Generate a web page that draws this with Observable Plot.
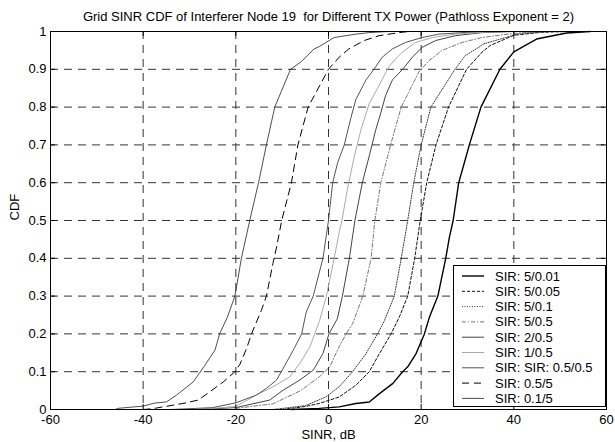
<!DOCTYPE html>
<html>
<head>
<meta charset="utf-8">
<script src="https://cdn.jsdelivr.net/npm/d3@7"></script>
<script src="https://cdn.jsdelivr.net/npm/@observablehq/plot@0.6"></script>
<style>
  html, body { margin: 0; padding: 0; background: #fff; }
  #chart svg { display: block; }
</style>
</head>
<body>
<div id="chart"></div>
<script>
// ---- Data (SINR in dB, CDF) ----
const titleText = "Grid SINR CDF of Interferer Node 19  for Different TX Power (Pathloss Exponent = 2)";
const xLabel = "SINR, dB";
const yLabel = "CDF";
const xTicks = [-60, -40, -20, 0, 20, 40, 60];
const yTicks = [0, 0.1, 0.2, 0.3, 0.4, 0.5, 0.6, 0.7, 0.8, 0.9, 1];

const seriesNames = ["SIR: 5/0.01", "SIR: 5/0.05", "SIR: 5/0.1", "SIR: 5/0.5", "SIR: 2/0.5", "SIR: 1/0.5", "SIR: SIR: 0.5/0.5", "SIR: 0.5/5", "SIR: 0.1/5"];

const s5_001 = [[-8,0],[-2,0.003],[2.3,0.007],[5.9,0.016],[8.8,0.02],[11,0.042],[13.9,0.069],[16,0.1],[17.1,0.113],[18.9,0.148],[20.7,0.2],[21.8,0.245],[23.6,0.3],[25.3,0.4],[26.1,0.456],[26.9,0.5],[28.1,0.6],[30.4,0.7],[32.9,0.8],[37,0.9],[40,0.946],[44.9,0.98],[51.4,0.996],[56.5,1]];
const s5_005 = [[-10,0],[-5,0.008],[-2,0.016],[2.3,0.033],[5.9,0.064],[8.8,0.1],[11,0.148],[13.5,0.2],[15.3,0.245],[17.1,0.3],[18.6,0.4],[19.8,0.5],[21.2,0.6],[23.2,0.7],[25.9,0.8],[29.8,0.9],[33.1,0.945],[34.9,0.963],[40,0.99],[46,0.998],[52,1]];
const s5_01 = [[-12,0],[-5,0.01],[-0.6,0.033],[2.3,0.06],[5.2,0.1],[8.1,0.148],[10.6,0.2],[12.1,0.236],[14.2,0.3],[15.7,0.4],[17.1,0.5],[18.4,0.6],[20,0.7],[22.1,0.8],[27.3,0.9],[29.5,0.936],[32.4,0.958],[33.4,0.967],[41.3,0.995],[48,1]];
const s5_05 = [[-20,0.003],[-12,0.015],[-6,0.05],[-2,0.086],[0.3,0.113],[0.9,0.13],[2.3,0.166],[3.8,0.2],[5.2,0.227],[7.4,0.3],[9.2,0.4],[10,0.5],[11.3,0.6],[13.4,0.7],[15.7,0.8],[19.5,0.893],[21.7,0.923],[24.5,0.95],[28.8,0.971],[33.1,0.984],[40,0.995],[46,1]];
const s2_05 = [[-28,0],[-20,0.005],[-12.7,0.025],[-9.8,0.051],[-6.2,0.078],[-3.3,0.104],[-1.2,0.148],[0.1,0.2],[1.9,0.24],[3,0.3],[4.5,0.4],[5.7,0.5],[7.3,0.6],[8.8,0.671],[10.2,0.74],[11.3,0.785],[12.3,0.83],[13.8,0.872],[16,0.9],[18.1,0.932],[20.2,0.958],[23.1,0.976],[27.4,0.989],[33.1,0.997],[40,1]];
const s1_05 = [[-28,0],[-20,0.008],[-15.6,0.038],[-12,0.06],[-8.4,0.086],[-6.2,0.122],[-4,0.166],[-1.9,0.236],[-0.5,0.298],[1,0.386],[2.4,0.474],[2.9,0.5],[4.1,0.584],[5.6,0.671],[7,0.74],[8.8,0.81],[10.6,0.85],[12.3,0.89],[13,0.906],[14.5,0.928],[15.9,0.945],[18.8,0.971],[22.4,0.984],[27.4,0.993],[33.1,0.998],[38,1]];
const s05_05 = [[-34,0],[-28.5,0.003],[-25,0.005],[-19.9,0.018],[-15.6,0.038],[-13.4,0.056],[-11.2,0.078],[-9.4,0.117],[-7.6,0.157],[-5.8,0.2],[-4.8,0.258],[-3.3,0.3],[-1.2,0.4],[0,0.5],[0.9,0.6],[2,0.654],[3.4,0.7],[4.8,0.77],[5.9,0.82],[8.1,0.872],[9.8,0.9],[11.6,0.932],[13.8,0.954],[16.6,0.971],[20.2,0.984],[23.8,0.993],[28.8,0.997],[33,1]];
const s05_5 = [[-40,0],[-38,0.002],[-35.7,0.007],[-31.4,0.016],[-28.1,0.025],[-25.6,0.047],[-22.7,0.073],[-20.2,0.1],[-19.1,0.12],[-17.7,0.161],[-16.6,0.2],[-15.7,0.227],[-14.5,0.262],[-13.4,0.3],[-12,0.386],[-11.2,0.43],[-10.1,0.5],[-8,0.6],[-6.6,0.7],[-4.4,0.8],[0,0.9],[2.3,0.932],[4.4,0.954],[7.7,0.976],[10.9,0.989],[15.2,0.997],[17.4,1]];
const s01_5 = [[-46,0],[-45.5,0.003],[-40,0.009],[-37.5,0.017],[-35,0.02],[-32.8,0.038],[-29.2,0.073],[-26.9,0.113],[-24.5,0.157],[-23.5,0.2],[-21.8,0.245],[-20.2,0.3],[-18.8,0.4],[-17,0.5],[-15.1,0.6],[-13.4,0.7],[-11.6,0.8],[-8.2,0.9],[-6,0.919],[-3.1,0.954],[-2,0.96],[1.2,0.984],[5.9,0.993],[8.7,0.997],[13,1]];

const seriesData = [s5_001, s5_005, s5_01, s5_05, s2_05, s1_05, s05_05, s05_5, s01_5];

// ---- Styles ----
const seriesStyles = [
  {stroke: "#000", width: 1.4, dash: null},
  {stroke: "#111", width: 1, dash: "3,2"},
  {stroke: "#333", width: 1, dash: "1,1.5"},
  {stroke: "#777", width: 1, dash: "4,2,1,2"},
  {stroke: "#444", width: 1, dash: null},
  {stroke: "#aaa", width: 1, dash: null},
  {stroke: "#555", width: 1, dash: null},
  {stroke: "#000", width: 1, dash: "7,5"},
  {stroke: "#222", width: 0.8, dash: null}
];

const W = 615, H = 442;
const FONT = "'Liberation Sans', Arial, Helvetica, sans-serif";
const FS = 13;
const gridStyle = {stroke: "#333", strokeOpacity: 1, strokeWidth: 1, strokeDasharray: "8,6"};

const lineMarks = seriesData.map((data, i) => Plot.line(data, {
  x: d => d[0], y: d => d[1],
  stroke: seriesStyles[i].stroke,
  strokeWidth: seriesStyles[i].width,
  strokeDasharray: seriesStyles[i].dash,
  strokeLinejoin: "round"
}));

const plot = Plot.plot({
  width: W, height: H,
  marginLeft: 50, marginRight: 9, marginTop: 31, marginBottom: 33,
  style: {fontFamily: FONT, fontSize: FS + "px", color: "#000", background: "#fff"},
  x: {domain: [-60, 60]},
  y: {domain: [0, 1]},
  marks: [
    Plot.gridX(xTicks, {...gridStyle}),
    Plot.gridY(yTicks, {...gridStyle}),
    ...lineMarks,
    // inner tick marks (box style)
    Plot.ruleX(xTicks, {x: d => d, y1: 0, y2: 0.013, stroke: "#000"}),
    Plot.ruleX(xTicks, {x: d => d, y1: 1, y2: 0.987, stroke: "#000"}),
    Plot.ruleY(yTicks, {y: d => d, x1: -60, x2: -58.9, stroke: "#000"}),
    Plot.ruleY(yTicks, {y: d => d, x1: 60, x2: 58.9, stroke: "#000"}),
    Plot.frame({stroke: "#000", strokeWidth: 1}),
    Plot.axisX(xTicks, {tickSize: 0, tickPadding: 5, tickFormat: d => String(d), label: null, fontSize: FS}),
    Plot.axisY(yTicks, {tickSize: 0, tickPadding: 4, tickFormat: d => String(+d.toFixed(1)), label: null, fontSize: FS}),
    Plot.text([titleText], {frameAnchor: "top", dy: -15, fontSize: FS, text: d => d, lineAnchor: "middle"}),
    Plot.text([xLabel], {frameAnchor: "bottom", dy: 25.5, fontSize: FS, text: d => d, lineAnchor: "middle"}),
    Plot.text([yLabel], {frameAnchor: "left", dx: -36, rotate: -90, fontSize: FS, text: d => d, lineAnchor: "middle"})
  ]
});

// ---- Legend (south-east, boxed) ----
const svg = d3.select(plot);
const lgX = 453, lgY = 265, lgW = 152, lgH = 141;
const lg = svg.append("g").attr("font-family", FONT).attr("font-size", FS).attr("text-anchor", "start");
lg.append("rect").attr("x", lgX + 0.5).attr("y", lgY + 0.5).attr("width", lgW).attr("height", lgH)
  .attr("fill", "#fff").attr("stroke", "#000").attr("stroke-width", 1);
seriesNames.forEach((name, i) => {
  const cy = lgY + 11 + i * 15.3;
  const st = seriesStyles[i];
  lg.append("line").attr("x1", lgX + 9).attr("x2", lgX + 31).attr("y1", cy).attr("y2", cy)
    .attr("stroke", st.stroke).attr("stroke-width", st.width)
    .attr("stroke-dasharray", st.dash);
  lg.append("text").attr("x", lgX + 42).attr("y", cy).attr("dy", "0.35em")
    .attr("text-anchor", "start").attr("fill", "#000").text(name);
});

document.getElementById("chart").appendChild(plot);
</script>
</body>
</html>
